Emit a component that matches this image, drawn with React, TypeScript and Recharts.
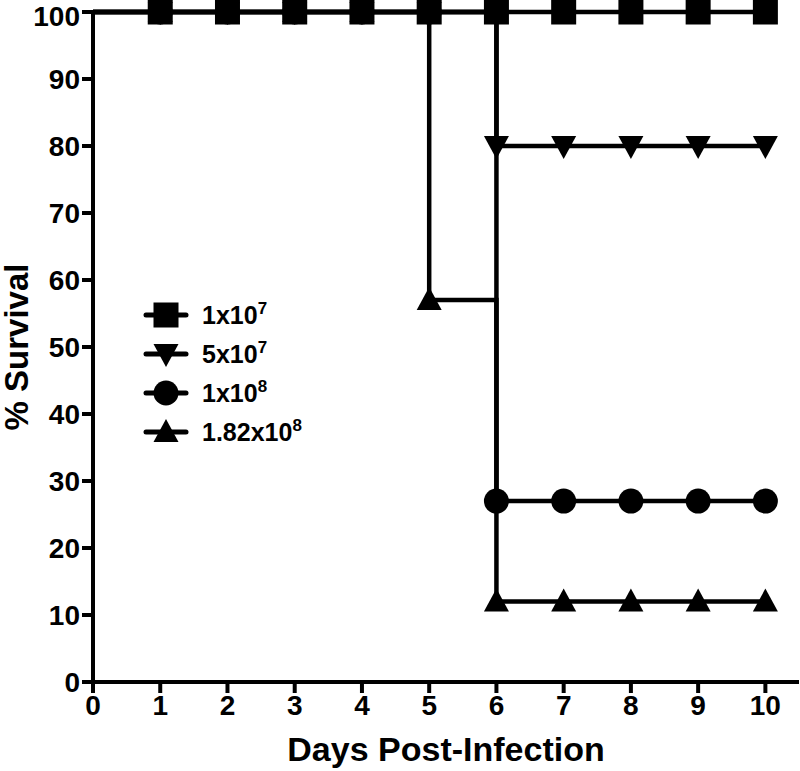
import { Line, LineChart, XAxis, YAxis } from 'recharts'

const DAYS = [0, 1, 2, 3, 4, 5, 6, 7, 8, 9, 10]
const DOSE_1E7 = [100, 100, 100, 100, 100, 100, 100, 100, 100, 100, 100]
const DOSE_5E7 = [100, 100, 100, 100, 100, 100, 80, 80, 80, 80, 80]
const DOSE_1E8 = [100, 100, 100, 100, 100, 100, 27, 27, 27, 27, 27]
const DOSE_182E8 = [100, 100, 100, 100, 100, 57, 12, 12, 12, 12, 12]
const X_TICKS = [0, 1, 2, 3, 4, 5, 6, 7, 8, 9, 10]
const Y_TICKS = [0, 10, 20, 30, 40, 50, 60, 70, 80, 90, 100]

const data = DAYS.map((d, i) => ({
  day: d,
  a: DOSE_1E7[i],
  b: DOSE_5E7[i],
  c: DOSE_1E8[i],
  d: DOSE_182E8[i],
}))

const FONT = '"Liberation Sans", Arial, Helvetica, sans-serif'
const INK = '#000'

type Shape = 'square' | 'down' | 'circle' | 'up'

function Marker({ shape, cx, cy }: { shape: Shape; cx: number; cy: number }) {
  if (shape === 'square') return <rect x={cx - 12.5} y={cy - 12.5} width={25} height={25} fill={INK} />
  if (shape === 'circle') return <circle cx={cx} cy={cy} r={12.5} fill={INK} />
  if (shape === 'down')
    return <path d={`M${cx - 12.5},${cy - 10} L${cx + 12.5},${cy - 10} L${cx},${cy + 13} Z`} fill={INK} />
  return <path d={`M${cx - 12.5},${cy + 10} L${cx + 12.5},${cy + 10} L${cx},${cy - 13} Z`} fill={INK} />
}

// GraphPad-style markers, none at day 0 (sits on the axis)
function dotFor(shape: Shape) {
  return (props: any) => {
    const { cx, cy, index } = props
    if (index === 0 || cx == null || cy == null) return <g key={`e${index}`} />
    return (
      <g key={`${shape}${index}`}>
        <Marker shape={shape} cx={cx} cy={cy} />
      </g>
    )
  }
}

const LEGEND: { shape: Shape; base: string; exp: string }[] = [
  { shape: 'square', base: '1x10', exp: '7' },
  { shape: 'down', base: '5x10', exp: '7' },
  { shape: 'circle', base: '1x10', exp: '8' },
  { shape: 'up', base: '1.82x10', exp: '8' },
]

export default function App() {
  return (
    <div style={{ position: 'absolute', left: 0, top: 0, width: 800, height: 771, background: '#fff' }}>
      <LineChart width={800} height={771} data={data} margin={{ top: 12, right: 1, left: 0, bottom: 0 }}>
        <XAxis
          dataKey="day"
          type="number"
          domain={[0, 10.5]}
          ticks={X_TICKS}
          axisLine={{ stroke: INK, strokeWidth: 4 }}
          tickLine={{ stroke: INK, strokeWidth: 4 }}
          tickSize={11}
          height={89}
          tick={{ fontSize: 28, fontWeight: 700, fill: INK, fontFamily: FONT }}
          label={{
            value: 'Days Post-Infection',
            position: 'insideBottom',
            offset: 10,
            fontSize: 34,
            fontWeight: 700,
            fill: INK,
            fontFamily: FONT,
          }}
        />
        <YAxis
          type="number"
          domain={[0, 100]}
          ticks={Y_TICKS}
          width={93}
          axisLine={{ stroke: INK, strokeWidth: 4 }}
          tickLine={{ stroke: INK, strokeWidth: 4 }}
          tickSize={11}
          tick={{ fontSize: 28, fontWeight: 700, fill: INK, fontFamily: FONT }}
          label={{
            value: '% Survival',
            angle: -90,
            position: 'insideLeft',
            offset: 0,
            dx: 16,
            fontSize: 33,
            fontWeight: 700,
            fill: INK,
            fontFamily: FONT,
            style: { textAnchor: 'middle' },
          }}
        />
        <Line type="stepAfter" dataKey="d" stroke={INK} strokeWidth={4.5} dot={dotFor('up')} isAnimationActive={false} />
        <Line type="stepAfter" dataKey="c" stroke={INK} strokeWidth={4.5} dot={dotFor('circle')} isAnimationActive={false} />
        <Line type="stepAfter" dataKey="b" stroke={INK} strokeWidth={4.5} dot={dotFor('down')} isAnimationActive={false} />
        <Line type="stepAfter" dataKey="a" stroke={INK} strokeWidth={4.5} dot={dotFor('square')} isAnimationActive={false} />
      </LineChart>
      <div style={{ position: 'absolute', left: 142, top: 295, fontFamily: FONT, fontWeight: 700, color: INK }}>
        {LEGEND.map((item) => (
          <div key={item.base + item.exp + item.shape} style={{ display: 'flex', alignItems: 'center', height: 39 }}>
            <svg width={50} height={30}>
              <line x1={4} y1={15} x2={44} y2={15} stroke={INK} strokeWidth={5} strokeLinecap="round" />
              <Marker shape={item.shape} cx={24} cy={15} />
            </svg>
            <span style={{ fontSize: 25, marginLeft: 10, lineHeight: '30px' }}>
              {item.base}
              <sup style={{ fontSize: 17, verticalAlign: 'top', position: 'relative', top: -6 }}>{item.exp}</sup>
            </span>
          </div>
        ))}
      </div>
    </div>
  )
}
